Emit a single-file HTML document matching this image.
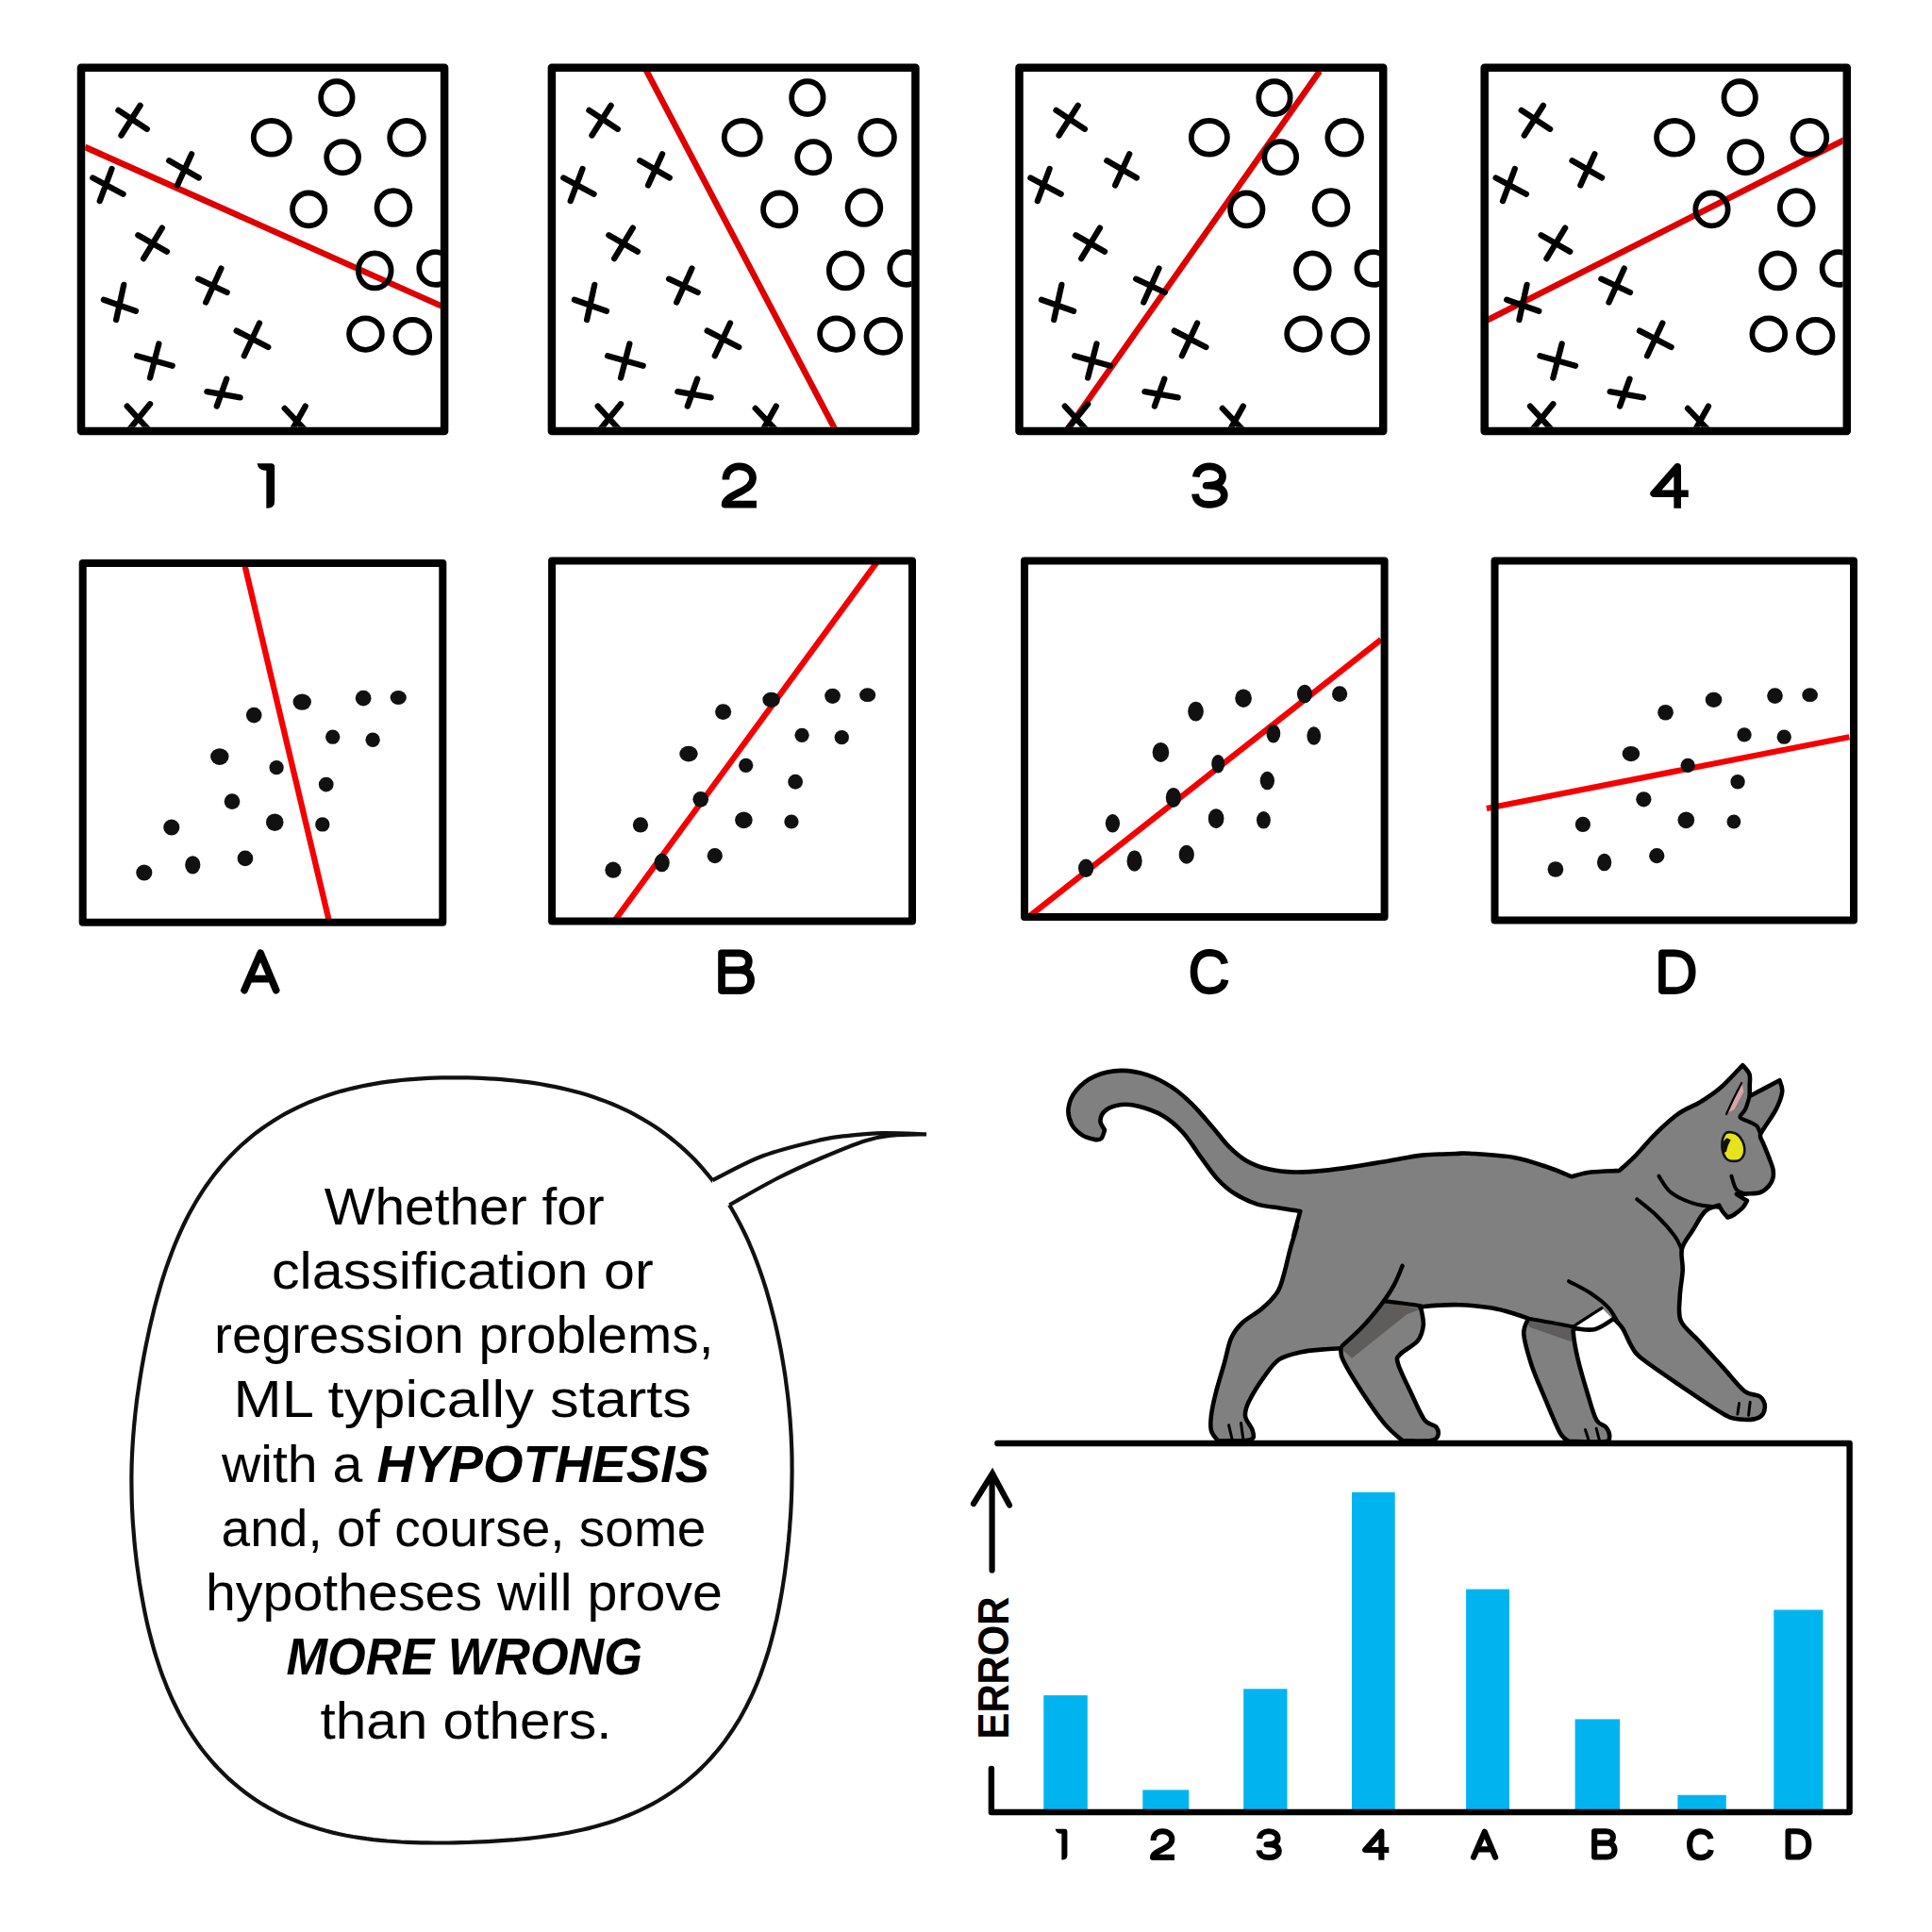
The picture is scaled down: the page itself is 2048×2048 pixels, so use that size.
<!DOCTYPE html>
<html><head><meta charset="utf-8"><style>
html,body{margin:0;padding:0;background:#fff;}
svg{display:block;}
</style></head><body>
<svg width="2048" height="2048" viewBox="0 0 2048 2048">
<rect width="2048" height="2048" fill="#fff"/>
<clipPath id="cp0"><rect x="113.4" y="121.2" width="1624.1" height="1624.1"/></clipPath>
<g transform="translate(64,48) scale(0.231884)">
<g clip-path="url(#cp0)">
<path d="M112,465L1742,1192" stroke="#de0000" stroke-width="28" fill="none"/>
<g fill="none" stroke="#000" stroke-width="27" stroke-linecap="round"><path d="M278,412L365,275M265,297L396,383"/><path d="M180,712L235,565M148,606L287,680"/><path d="M535,640L600,497M497,527L633,606"/><path d="M380,975L465,835M355,868L487,943"/><path d="M255,1255L290,1095M198,1163L345,1215"/><path d="M665,1175L735,1020M630,1068L762,1130"/><path d="M840,1420L910,1270M805,1305L950,1380"/><path d="M410,1520L450,1365M350,1420L512,1465"/><path d="M715,1650L760,1525M670,1583L822,1610"/><path d="M410,1640L300,1775M305,1650L415,1770"/><path d="M1120,1650L1050,1775M1025,1660L1130,1770"/></g>
<g fill="none" stroke="#000" stroke-width="25"><ellipse cx="1263" cy="240" rx="72" ry="75"/><ellipse cx="965" cy="422" rx="82" ry="77"/><ellipse cx="1290" cy="512" rx="73" ry="72"/><ellipse cx="1583" cy="422" rx="77" ry="77"/><ellipse cx="1135" cy="750" rx="74" ry="75"/><ellipse cx="1522" cy="742" rx="75" ry="77"/><ellipse cx="1437" cy="1030" rx="75" ry="80"/><ellipse cx="1715" cy="1020" rx="75" ry="75"/><ellipse cx="1395" cy="1320" rx="75" ry="72"/><ellipse cx="1610" cy="1330" rx="77" ry="75"/></g>
</g></g>
<rect x="86" y="71.8" width="385.1" height="385.1" fill="none" stroke="#000" stroke-width="8.5" stroke-linejoin="round"/>
<clipPath id="cp1"><rect x="112.6" y="121.2" width="1625.8" height="1624.1"/></clipPath>
<g transform="translate(563,48) scale(0.231884)">
<g clip-path="url(#cp1)">
<path d="M508,80L1398,1772" stroke="#de0000" stroke-width="28" fill="none"/>
<g fill="none" stroke="#000" stroke-width="27" stroke-linecap="round"><path d="M278,412L365,275M265,297L396,383"/><path d="M180,712L235,565M148,606L287,680"/><path d="M535,640L600,497M497,527L633,606"/><path d="M380,975L465,835M355,868L487,943"/><path d="M255,1255L290,1095M198,1163L345,1215"/><path d="M665,1175L735,1020M630,1068L762,1130"/><path d="M840,1420L910,1270M805,1305L950,1380"/><path d="M410,1520L450,1365M350,1420L512,1465"/><path d="M715,1650L760,1525M670,1583L822,1610"/><path d="M410,1640L300,1775M305,1650L415,1770"/><path d="M1120,1650L1050,1775M1025,1660L1130,1770"/></g>
<g fill="none" stroke="#000" stroke-width="25"><ellipse cx="1263" cy="240" rx="72" ry="75"/><ellipse cx="965" cy="422" rx="82" ry="77"/><ellipse cx="1290" cy="512" rx="73" ry="72"/><ellipse cx="1583" cy="422" rx="77" ry="77"/><ellipse cx="1135" cy="750" rx="74" ry="75"/><ellipse cx="1522" cy="742" rx="75" ry="77"/><ellipse cx="1437" cy="1030" rx="75" ry="80"/><ellipse cx="1715" cy="1020" rx="75" ry="75"/><ellipse cx="1395" cy="1320" rx="75" ry="72"/><ellipse cx="1610" cy="1330" rx="77" ry="75"/></g>
</g></g>
<rect x="584.9" y="71.8" width="385.5" height="385.1" fill="none" stroke="#000" stroke-width="8.5" stroke-linejoin="round"/>
<clipPath id="cp2"><rect x="114.7" y="121.2" width="1626.7" height="1624.1"/></clipPath>
<g transform="translate(1058.1,48) scale(0.231884)">
<g clip-path="url(#cp2)">
<path d="M300,1780L1470,118" stroke="#de0000" stroke-width="28" fill="none"/>
<g fill="none" stroke="#000" stroke-width="27" stroke-linecap="round"><path d="M278,412L365,275M265,297L396,383"/><path d="M180,712L235,565M148,606L287,680"/><path d="M535,640L600,497M497,527L633,606"/><path d="M380,975L465,835M355,868L487,943"/><path d="M255,1255L290,1095M198,1163L345,1215"/><path d="M665,1175L735,1020M630,1068L762,1130"/><path d="M840,1420L910,1270M805,1305L950,1380"/><path d="M410,1520L450,1365M350,1420L512,1465"/><path d="M715,1650L760,1525M670,1583L822,1610"/><path d="M410,1640L300,1775M305,1650L415,1770"/><path d="M1120,1650L1050,1775M1025,1660L1130,1770"/></g>
<g fill="none" stroke="#000" stroke-width="25"><ellipse cx="1263" cy="240" rx="72" ry="75"/><ellipse cx="965" cy="422" rx="82" ry="77"/><ellipse cx="1290" cy="512" rx="73" ry="72"/><ellipse cx="1583" cy="422" rx="77" ry="77"/><ellipse cx="1135" cy="750" rx="74" ry="75"/><ellipse cx="1522" cy="742" rx="75" ry="77"/><ellipse cx="1437" cy="1030" rx="75" ry="80"/><ellipse cx="1715" cy="1020" rx="75" ry="75"/><ellipse cx="1395" cy="1320" rx="75" ry="72"/><ellipse cx="1610" cy="1330" rx="77" ry="75"/></g>
</g></g>
<rect x="1080.5" y="71.8" width="385.7" height="385.1" fill="none" stroke="#000" stroke-width="8.5" stroke-linejoin="round"/>
<clipPath id="cp3"><rect x="114.7" y="121.2" width="1619.8" height="1624.1"/></clipPath>
<g transform="translate(1551.3,48) scale(0.231884)">
<g clip-path="url(#cp3)">
<path d="M98,1262L1742,432" stroke="#de0000" stroke-width="28" fill="none"/>
<g fill="none" stroke="#000" stroke-width="27" stroke-linecap="round"><path d="M278,412L365,275M265,297L396,383"/><path d="M180,712L235,565M148,606L287,680"/><path d="M535,640L600,497M497,527L633,606"/><path d="M380,975L465,835M355,868L487,943"/><path d="M255,1255L290,1095M198,1163L345,1215"/><path d="M665,1175L735,1020M630,1068L762,1130"/><path d="M840,1420L910,1270M805,1305L950,1380"/><path d="M410,1520L450,1365M350,1420L512,1465"/><path d="M715,1650L760,1525M670,1583L822,1610"/><path d="M410,1640L300,1775M305,1650L415,1770"/><path d="M1120,1650L1050,1775M1025,1660L1130,1770"/></g>
<g fill="none" stroke="#000" stroke-width="25"><ellipse cx="1263" cy="240" rx="72" ry="75"/><ellipse cx="965" cy="422" rx="82" ry="77"/><ellipse cx="1290" cy="512" rx="73" ry="72"/><ellipse cx="1583" cy="422" rx="77" ry="77"/><ellipse cx="1135" cy="750" rx="74" ry="75"/><ellipse cx="1522" cy="742" rx="75" ry="77"/><ellipse cx="1437" cy="1030" rx="75" ry="80"/><ellipse cx="1715" cy="1020" rx="75" ry="75"/><ellipse cx="1395" cy="1320" rx="75" ry="72"/><ellipse cx="1610" cy="1330" rx="77" ry="75"/></g>
</g></g>
<rect x="1573.7" y="71.8" width="384.1" height="385.1" fill="none" stroke="#000" stroke-width="8.5" stroke-linejoin="round"/>
<g transform="translate(64,576) scale(0.231884)">
<path d="M838,80L1228,1725" stroke="#f50000" stroke-width="27" fill="none"/>
<g fill="#111"><ellipse cx="885" cy="785" rx="36" ry="36"/><ellipse cx="1105" cy="725" rx="42" ry="37"/><ellipse cx="1385" cy="708" rx="36" ry="36"/><ellipse cx="1545" cy="705" rx="37" ry="32"/><ellipse cx="1245" cy="885" rx="33" ry="33"/><ellipse cx="1428" cy="898" rx="33" ry="33"/><ellipse cx="728" cy="975" rx="42" ry="38"/><ellipse cx="988" cy="1025" rx="33" ry="33"/><ellipse cx="1215" cy="1102" rx="34" ry="34"/><ellipse cx="785" cy="1180" rx="36" ry="36"/><ellipse cx="980" cy="1275" rx="40" ry="40"/><ellipse cx="1198" cy="1285" rx="33" ry="33"/><ellipse cx="508" cy="1298" rx="37" ry="37"/><ellipse cx="845" cy="1440" rx="36" ry="36"/><ellipse cx="605" cy="1470" rx="35" ry="42"/><ellipse cx="383" cy="1505" rx="37" ry="37"/></g>
</g>
<rect x="87.7" y="596.9" width="381.6" height="380.9" fill="none" stroke="#000" stroke-width="8" stroke-linejoin="round"/>
<g transform="translate(563,576) scale(0.231884)">
<path d="M378,1730L1585,80" stroke="#f50000" stroke-width="27" fill="none"/>
<g fill="#111"><ellipse cx="878" cy="770" rx="37" ry="36"/><ellipse cx="1098" cy="715" rx="40" ry="35"/><ellipse cx="1378" cy="698" rx="36" ry="35"/><ellipse cx="1538" cy="693" rx="37" ry="32"/><ellipse cx="1238" cy="877" rx="33" ry="33"/><ellipse cx="1420" cy="887" rx="33" ry="33"/><ellipse cx="720" cy="962" rx="42" ry="36"/><ellipse cx="982" cy="1015" rx="33" ry="33"/><ellipse cx="1208" cy="1090" rx="34" ry="34"/><ellipse cx="775" cy="1170" rx="36" ry="36"/><ellipse cx="972" cy="1265" rx="40" ry="38"/><ellipse cx="1190" cy="1272" rx="33" ry="32"/><ellipse cx="500" cy="1287" rx="35" ry="35"/><ellipse cx="840" cy="1428" rx="35" ry="35"/><ellipse cx="598" cy="1460" rx="35" ry="42"/><ellipse cx="375" cy="1493" rx="37" ry="37"/></g>
</g>
<rect x="585.1" y="594.4" width="381.9" height="382.2" fill="none" stroke="#000" stroke-width="8" stroke-linejoin="round"/>
<g transform="translate(1060,576) scale(0.231884)">
<path d="M125,1712L1742,440" stroke="#f50000" stroke-width="27" fill="none"/>
<g fill="#111"><ellipse cx="895" cy="768" rx="36" ry="45"/><ellipse cx="1113" cy="708" rx="38" ry="42"/><ellipse cx="1393" cy="688" rx="35" ry="42"/><ellipse cx="1553" cy="688" rx="35" ry="36"/><ellipse cx="1250" cy="870" rx="32" ry="42"/><ellipse cx="1435" cy="880" rx="32" ry="42"/><ellipse cx="735" cy="955" rx="38" ry="45"/><ellipse cx="997" cy="1008" rx="30" ry="42"/><ellipse cx="1222" cy="1085" rx="33" ry="42"/><ellipse cx="793" cy="1162" rx="35" ry="45"/><ellipse cx="988" cy="1258" rx="36" ry="45"/><ellipse cx="1205" cy="1265" rx="32" ry="40"/><ellipse cx="515" cy="1280" rx="33" ry="42"/><ellipse cx="853" cy="1422" rx="35" ry="43"/><ellipse cx="615" cy="1452" rx="35" ry="48"/><ellipse cx="393" cy="1485" rx="35" ry="42"/></g>
</g>
<rect x="1086" y="594.4" width="381.6" height="377.6" fill="none" stroke="#000" stroke-width="8" stroke-linejoin="round"/>
<g transform="translate(1555,576) scale(0.231884)">
<path d="M90,1212L1748,885" stroke="#f50000" stroke-width="27" fill="none"/>
<g fill="#111"><ellipse cx="908" cy="773" rx="36" ry="36"/><ellipse cx="1128" cy="715" rx="38" ry="35"/><ellipse cx="1408" cy="697" rx="36" ry="36"/><ellipse cx="1568" cy="693" rx="36" ry="32"/><ellipse cx="1268" cy="875" rx="33" ry="33"/><ellipse cx="1450" cy="885" rx="33" ry="33"/><ellipse cx="750" cy="962" rx="40" ry="35"/><ellipse cx="1010" cy="1015" rx="33" ry="33"/><ellipse cx="1238" cy="1090" rx="33" ry="33"/><ellipse cx="808" cy="1170" rx="35" ry="35"/><ellipse cx="1002" cy="1265" rx="38" ry="38"/><ellipse cx="1220" cy="1272" rx="32" ry="32"/><ellipse cx="530" cy="1285" rx="35" ry="35"/><ellipse cx="868" cy="1428" rx="35" ry="35"/><ellipse cx="628" cy="1458" rx="33" ry="40"/><ellipse cx="405" cy="1490" rx="36" ry="36"/></g>
</g>
<rect x="1584.5" y="594.4" width="380.5" height="381.1" fill="none" stroke="#000" stroke-width="8" stroke-linejoin="round"/>
<path transform="translate(272.5,491.2) scale(0.10352)" d="M0,0 L145,0 Q180,0 180,35 L180,390 Q180,460 105,460 L95,460 L95,72 L85,72 Q15,72 0,0Z" fill="#000"/>
<path transform="translate(764.7,490.7) scale(0.10352)" d="M45,172 C45,85 105,36 182,36 C265,36 322,88 322,152 C322,225 262,262 182,302 C95,345 37,378 37,425 L360,425" fill="none" stroke="#000" stroke-width="74" stroke-linejoin="round"/>
<path transform="translate(1263.1,490.7) scale(0.10352)" d="M45,145 C52,78 110,36 182,36 C262,36 318,80 318,138 C318,195 268,232 150,232 L172,232 C280,232 335,272 335,332 C335,392 272,427 180,427 C98,427 42,388 38,318" fill="none" stroke="#000" stroke-width="74" stroke-linejoin="round"/>
<path transform="translate(1749.4,490.7) scale(0.10352)" d="M278,465 L278,40 L36,314 L390,314" fill="none" stroke="#000" stroke-width="74" stroke-linejoin="round"/>
<path transform="translate(254.9,1006) scale(0.10352)" d="M40,422 L205,42 L365,422 M112,305 L298,305" fill="none" stroke="#000" stroke-width="74" stroke-linejoin="round" stroke-linecap="round"/>
<path transform="translate(760.9,1006.6) scale(0.10352)" d="M40,420 L40,36 L215,36 C282,36 318,72 318,123 C318,175 282,210 215,210 L40,210 L228,210 C300,210 340,252 340,315 C340,380 298,420 222,420 L40,420Z" fill="none" stroke="#000" stroke-width="74" stroke-linejoin="round"/>
<path transform="translate(1261.6,1006) scale(0.10352)" d="M352,150 C340,78 280,37 197,37 C100,37 38,110 38,232 C38,355 100,428 197,428 C285,428 346,385 357,315" fill="none" stroke="#000" stroke-width="74" stroke-linejoin="round"/>
<path transform="translate(1757.8,1006.6) scale(0.10352)" d="M40,36 L165,36 C285,36 347,110 347,228 C347,345 285,420 165,420 L40,420 Z" fill="none" stroke="#000" stroke-width="74" stroke-linejoin="round"/>
<path transform="translate(1118.6,1938.7) scale(0.07109)" d="M0,0 L145,0 Q180,0 180,35 L180,390 Q180,460 105,460 L95,460 L95,72 L85,72 Q15,72 0,0Z" fill="#000"/>
<path transform="translate(1219.4,1938.7) scale(0.07109)" d="M45,172 C45,85 105,36 182,36 C265,36 322,88 322,152 C322,225 262,262 182,302 C95,345 37,378 37,425 L360,425" fill="none" stroke="#000" stroke-width="86" stroke-linejoin="round"/>
<path transform="translate(1331.9,1938.7) scale(0.07109)" d="M45,145 C52,78 110,36 182,36 C262,36 318,80 318,138 C318,195 268,232 150,232 L172,232 C280,232 335,272 335,332 C335,392 272,427 180,427 C98,427 42,388 38,318" fill="none" stroke="#000" stroke-width="86" stroke-linejoin="round"/>
<path transform="translate(1444.6,1938.7) scale(0.07109)" d="M278,465 L278,40 L36,314 L390,314" fill="none" stroke="#000" stroke-width="86" stroke-linejoin="round"/>
<path transform="translate(1559.2,1938.7) scale(0.07109)" d="M40,422 L205,42 L365,422 M112,305 L298,305" fill="none" stroke="#000" stroke-width="86" stroke-linejoin="round" stroke-linecap="round"/>
<path transform="translate(1687.3,1938.7) scale(0.07109)" d="M40,420 L40,36 L215,36 C282,36 318,72 318,123 C318,175 282,210 215,210 L40,210 L228,210 C300,210 340,252 340,315 C340,380 298,420 222,420 L40,420Z" fill="none" stroke="#000" stroke-width="86" stroke-linejoin="round"/>
<path transform="translate(1788.4,1938.7) scale(0.07109)" d="M352,150 C340,78 280,37 197,37 C100,37 38,110 38,232 C38,355 100,428 197,428 C285,428 346,385 357,315" fill="none" stroke="#000" stroke-width="86" stroke-linejoin="round"/>
<path transform="translate(1892.7,1938.7) scale(0.07109)" d="M40,36 L165,36 C285,36 347,110 347,228 C347,345 285,420 165,420 L40,420 Z" fill="none" stroke="#000" stroke-width="86" stroke-linejoin="round"/>
<path d="M139.8,1547 L140.1,1540.9 L140.4,1534.8 L140.8,1528.7 L141.2,1522.7 L141.7,1516.6 L142.2,1510.5 L142.8,1504.5 L143.4,1498.4 L144.1,1492.4 L144.8,1486.3 L145.6,1480.3 L146.5,1474.2 L147.4,1468.1 L148.3,1462.1 L149.3,1456 L150.3,1449.9 L151.4,1443.8 L152.5,1437.7 L153.7,1431.5 L154.9,1425.4 L156.2,1419.2 L157.5,1413.1 L158.8,1406.9 L160.3,1400.6 L161.8,1394.4 L163.3,1388.1 L164.9,1381.9 L166.6,1375.6 L168.4,1369.3 L170.2,1362.9 L172.1,1356.6 L174.1,1350.3 L176.2,1343.9 L178.5,1337.5 L180.8,1331.2 L183.2,1324.8 L185.7,1318.5 L188.4,1312.1 L191.2,1305.8 L194.1,1299.5 L197.1,1293.3 L200.3,1287.1 L203.7,1280.9 L207.2,1274.8 L210.8,1268.8 L214.6,1262.8 L218.5,1257 L222.7,1251.2 L226.9,1245.5 L231.4,1239.9 L235.9,1234.5 L240.7,1229.2 L245.6,1224 L250.6,1218.9 L255.8,1214 L261.2,1209.3 L266.7,1204.7 L272.3,1200.2 L278.1,1196 L284,1191.9 L290,1188 L296.1,1184.2 L302.3,1180.7 L308.7,1177.3 L315.1,1174.1 L321.6,1171.1 L328.2,1168.2 L334.9,1165.6 L341.6,1163.1 L348.4,1160.7 L355.3,1158.6 L362.1,1156.6 L369.1,1154.8 L376,1153.1 L383,1151.5 L390,1150.1 L397.1,1148.9 L404.1,1147.7 L411.2,1146.7 L418.3,1145.8 L425.3,1145 L432.4,1144.4 L439.5,1143.8 L446.6,1143.3 L453.6,1142.9 L460.7,1142.6 L467.8,1142.4 L474.9,1142.3 L481.9,1142.3 L489,1142.3 L496.1,1142.4 L503.1,1142.6 L510.2,1142.9 L517.2,1143.3 L524.3,1143.7 L531.3,1144.2 L538.4,1144.8 L545.4,1145.5 L552.5,1146.3 L559.5,1147.2 L566.5,1148.2 L573.5,1149.3 L580.5,1150.6 L587.5,1151.9 L594.5,1153.4 L601.4,1155 L608.3,1156.7 L615.2,1158.6 L622,1160.6 L628.8,1162.8 L635.6,1165.2 L642.3,1167.6 L648.9,1170.3 L655.5,1173.1 L662,1176.1 L668.4,1179.2 L674.7,1182.6 L680.9,1186.1 L687,1189.7 L693.1,1193.5 L699,1197.5 L704.8,1201.7 L710.4,1206 L716,1210.5 L721.4,1215.1 L726.7,1219.9 L731.8,1224.8 L736.8,1229.8 L741.6,1235 L746.3,1240.3 L750.9,1245.8 L755.3,1251.3 L759.5,1256.9 L763.6,1262.7 L767.5,1268.5 L771.3,1274.4 L775,1280.3 L778.5,1286.4 L781.8,1292.5 L785,1298.6 L788.1,1304.8 L791.1,1311 L793.9,1317.2 L796.6,1323.5 L799.2,1329.8 L801.6,1336.1 L804,1342.4 L806.2,1348.8 L808.4,1355.1 L810.4,1361.4 L812.4,1367.7 L814.2,1374.1 L816,1380.4 L817.7,1386.7 L819.3,1393 L820.9,1399.2 L822.4,1405.5 L823.8,1411.7 L825.1,1418 L826.4,1424.2 L827.6,1430.4 L828.7,1436.6 L829.8,1442.8 L830.8,1449 L831.8,1455.2 L832.7,1461.3 L833.5,1467.5 L834.3,1473.6 L835.1,1479.7 L835.8,1485.9 L836.4,1492 L836.9,1498.1 L837.5,1504.2 L837.9,1510.3 L838.3,1516.4 L838.7,1522.5 L838.9,1528.7 L839.2,1534.8 L839.4,1540.9 L839.5,1547 L839.5,1553.1 L839.6,1559.2 L839.5,1565.4 L839.4,1571.5 L839.3,1577.6 L839.1,1583.8 L838.9,1590 L838.6,1596.1 L838.3,1602.3 L837.9,1608.5 L837.4,1614.7 L837,1621 L836.4,1627.2 L835.9,1633.5 L835.2,1639.8 L834.6,1646.1 L833.8,1652.4 L833,1658.8 L832.2,1665.2 L831.3,1671.6 L830.3,1678 L829.3,1684.5 L828.2,1691 L827,1697.5 L825.8,1704.1 L824.5,1710.6 L823.1,1717.2 L821.5,1723.8 L819.9,1730.4 L818.2,1737.1 L816.4,1743.7 L814.5,1750.4 L812.4,1757 L810.2,1763.7 L807.9,1770.3 L805.5,1776.9 L802.9,1783.5 L800.1,1790.1 L797.2,1796.6 L794.1,1803 L790.9,1809.5 L787.5,1815.8 L784,1822.1 L780.2,1828.2 L776.3,1834.3 L772.2,1840.3 L768,1846.2 L763.6,1851.9 L759,1857.5 L754.2,1863 L749.2,1868.4 L744.1,1873.5 L738.8,1878.6 L733.4,1883.4 L727.8,1888.1 L722.1,1892.6 L716.2,1896.9 L710.2,1901.1 L704.1,1905 L697.9,1908.8 L691.5,1912.3 L685.1,1915.7 L678.5,1918.9 L671.9,1921.9 L665.1,1924.8 L658.4,1927.4 L651.5,1929.9 L644.6,1932.2 L637.7,1934.3 L630.7,1936.3 L623.7,1938.1 L616.6,1939.8 L609.5,1941.3 L602.5,1942.7 L595.4,1944 L588.3,1945.2 L581.2,1946.2 L574.1,1947.2 L567,1948 L559.9,1948.8 L552.8,1949.5 L545.7,1950.2 L538.6,1950.7 L531.5,1951.2 L524.4,1951.7 L517.3,1952.1 L510.2,1952.4 L503.2,1952.7 L496.1,1953 L489,1953.2 L481.9,1953.3 L474.8,1953.5 L467.7,1953.5 L460.6,1953.5 L453.4,1953.4 L446.3,1953.3 L439.1,1953.1 L432,1952.8 L424.8,1952.5 L417.6,1952 L410.4,1951.5 L403.2,1950.8 L395.9,1950.1 L388.7,1949.2 L381.5,1948.1 L374.3,1947 L367.1,1945.7 L359.9,1944.2 L352.8,1942.6 L345.7,1940.8 L338.6,1938.8 L331.6,1936.6 L324.6,1934.3 L317.7,1931.8 L310.9,1929 L304.1,1926.1 L297.4,1923 L290.9,1919.6 L284.4,1916.1 L278.1,1912.4 L271.8,1908.4 L265.7,1904.3 L259.8,1900 L254,1895.4 L248.3,1890.7 L242.8,1885.9 L237.5,1880.8 L232.3,1875.6 L227.3,1870.2 L222.4,1864.7 L217.7,1859 L213.2,1853.3 L208.9,1847.3 L204.8,1841.3 L200.8,1835.2 L197,1829 L193.4,1822.7 L189.9,1816.3 L186.7,1809.8 L183.5,1803.3 L180.6,1796.8 L177.7,1790.2 L175.1,1783.6 L172.5,1776.9 L170.1,1770.3 L167.9,1763.6 L165.7,1756.9 L163.7,1750.3 L161.8,1743.6 L160,1736.9 L158.3,1730.3 L156.7,1723.7 L155.2,1717.1 L153.8,1710.5 L152.5,1703.9 L151.3,1697.4 L150.1,1690.9 L149,1684.4 L147.9,1677.9 L147,1671.5 L146.1,1665.1 L145.2,1658.7 L144.4,1652.3 L143.7,1646 L143,1639.7 L142.4,1633.4 L141.9,1627.1 L141.4,1620.9 L140.9,1614.7 L140.5,1608.4 L140.2,1602.2 L139.9,1596.1 L139.7,1589.9 L139.6,1583.7 L139.5,1577.6 L139.4,1571.4 L139.4,1565.3 L139.5,1559.2 L139.6,1553.1Z" fill="#fff" stroke="#111" stroke-width="4.2"/>
<path d="M755.2,1251.2C764.1,1246.9 789.4,1232.4 808.7,1225.2C828,1218 855.6,1211.7 870.8,1208.1C886,1204.5 889.1,1204.9 900,1203.8C910.9,1202.7 922.3,1201.5 936,1201.2C949.7,1201 974.3,1202.1 982,1202.3C975.8,1202.5 955.8,1202.4 945,1203.6C934.2,1204.8 929.8,1205.2 917.4,1209.2C905,1213.2 886.3,1220.9 870.8,1227.5C855.3,1234.1 840.5,1240.7 824.2,1249C807.9,1257.3 781.7,1272.6 773.2,1277.3 L750,1290Z" fill="#fff" stroke="none"/>
<path d="M755.2,1251.2C764.1,1246.9 789.4,1232.4 808.7,1225.2C828,1218 855.6,1211.7 870.8,1208.1C886,1204.5 889.1,1204.9 900,1203.8C910.9,1202.7 922.3,1201.5 936,1201.2C949.7,1201 974.3,1202.1 982,1202.3C975.8,1202.5 955.8,1202.4 945,1203.6C934.2,1204.8 929.8,1205.2 917.4,1209.2C905,1213.2 886.3,1220.9 870.8,1227.5C855.3,1234.1 840.5,1240.7 824.2,1249C807.9,1257.3 781.7,1272.6 773.2,1277.3" fill="none" stroke="#111" stroke-width="4.2" stroke-linejoin="miter" stroke-miterlimit="10"/>
<g font-family="Liberation Sans, sans-serif" font-size="55" fill="#000">
<text x="343.8" y="1297.8" textLength="297" lengthAdjust="spacingAndGlyphs">Whether for</text>
<text x="288" y="1366" textLength="404.6" lengthAdjust="spacingAndGlyphs">classification or</text>
<text x="227" y="1434" textLength="529.4" lengthAdjust="spacingAndGlyphs">regression problems,</text>
<text x="247.6" y="1502.4" textLength="485.4" lengthAdjust="spacingAndGlyphs">ML typically starts</text>
<text x="234.6" y="1638.8" textLength="513.8" lengthAdjust="spacingAndGlyphs">and, of course, some</text>
<text x="218" y="1706.6" textLength="547.8" lengthAdjust="spacingAndGlyphs">hypotheses will prove</text>
<text x="339.4" y="1842.6" textLength="309.2" lengthAdjust="spacingAndGlyphs">than others.</text>
<text x="234.9" y="1570.6" textLength="149.4" lengthAdjust="spacingAndGlyphs">with a</text>
<text x="399.5" y="1571" textLength="352.5" lengthAdjust="spacingAndGlyphs" font-weight="bold" font-style="italic">HYPOTHESIS</text>
<text x="303.5" y="1775.2" textLength="377.5" lengthAdjust="spacingAndGlyphs" font-weight="bold" font-style="italic">MORE WRONG</text>
</g>
<g>
<path d="M1161.7,1208.3C1159.4,1207.5 1152,1206.4 1147.7,1203.6C1143.5,1200.9 1138.6,1196.9 1136.1,1192C1133.6,1187.2 1131.8,1180.6 1132.6,1174.5C1133.4,1168.5 1136.1,1161.5 1140.8,1155.9C1145.4,1150.3 1152.6,1144.3 1160.6,1140.8C1168.5,1137.3 1179.2,1135.1 1188.5,1134.9C1197.8,1134.7 1207.5,1136.7 1216.5,1139.6C1225.4,1142.5 1234.3,1147.4 1242.1,1152.4C1249.8,1157.5 1256.1,1163.1 1263,1169.9C1270,1176.7 1277.4,1185.6 1284,1193.2C1290.6,1200.7 1296.4,1209.1 1302.6,1215.3C1308.9,1221.5 1314.3,1226.4 1321.3,1230.4C1328.3,1234.4 1336,1237.3 1344.6,1239.3C1353.1,1241.3 1362.8,1242.3 1372.5,1242.5C1382.2,1242.8 1391.9,1242 1402.8,1240.9C1413.7,1239.9 1426.1,1238 1437.7,1236.3C1449.4,1234.5 1461,1232.4 1472.7,1230.4C1484.3,1228.5 1496,1225.9 1507.6,1224.6C1519.3,1223.4 1534.1,1223.3 1542.6,1223C1551,1222.7 1547.9,1222.1 1558.2,1222.7C1568.6,1223.4 1591.2,1224.6 1604.8,1226.9C1618.4,1229.3 1629.6,1233.6 1639.8,1237C1649.9,1240.3 1661.5,1245.5 1665.8,1247.2C1669.3,1246.4 1677.9,1243.6 1686.3,1242.5C1694.8,1241.5 1711.6,1241.2 1716.6,1240.9C1719.3,1238.4 1726.3,1232.5 1732.9,1225.8C1739.5,1219.1 1748.4,1208.2 1756.2,1200.6C1764,1193.1 1771.7,1185.8 1779.5,1180.4C1787.3,1174.9 1795.4,1172.6 1802.8,1168C1810.2,1163.5 1816.3,1159.6 1823.8,1153.1C1831.2,1146.6 1843.4,1133.1 1847.3,1129.1C1848.5,1130.7 1853.3,1135.1 1854.5,1138.7C1855.7,1142.3 1854.7,1146.9 1854.7,1150.8C1854.8,1154.7 1854.7,1160.1 1854.7,1162C1860,1159.2 1881.1,1148 1886.4,1145.2C1886.9,1147.2 1889.8,1152.2 1889.2,1157.3C1888.6,1162.4 1886,1169.4 1882.7,1175.9C1879.4,1182.5 1872.4,1191.8 1869.6,1196.4C1866.9,1201.1 1865.9,1201.1 1865.9,1203.9C1865.9,1206.7 1868.1,1209.3 1869.6,1213.2C1871.2,1217.1 1873.6,1222.8 1875.2,1227.2C1876.9,1231.5 1878.7,1235.7 1879.4,1239.3C1880.1,1242.9 1880.1,1245.7 1879.4,1248.6C1878.7,1251.6 1877.5,1254.4 1875.2,1257C1873,1259.6 1869.8,1262.6 1865.9,1264C1862,1265.4 1854.3,1265.1 1851.9,1265.4C1850.1,1265.5 1842.6,1265.8 1840.8,1265.8C1842.6,1267 1850.1,1271.7 1851.9,1272.8C1851.2,1274.1 1849.6,1277.8 1847.3,1280.3C1845,1282.8 1840.6,1286 1838,1287.7C1835.3,1289.4 1832.5,1290.1 1831.4,1290.5C1830.5,1289.4 1827.4,1286.2 1825.9,1284C1824.3,1281.8 1822.8,1278.6 1822.1,1277.5C1819.7,1278.6 1812,1279.6 1807.5,1284C1802.9,1288.4 1798.7,1297.2 1794.6,1303.8C1790.6,1310.4 1784.8,1316.5 1783,1323.6C1781.2,1330.7 1784.1,1338.1 1783.7,1346.6C1783.3,1355.1 1781,1365.6 1780.7,1374.5C1780.4,1383.5 1778.5,1392.4 1781.8,1400.2C1785.1,1407.9 1793.1,1413 1800.5,1421.1C1807.8,1429.3 1817.9,1440.1 1826.1,1449.1C1834.2,1458 1842.8,1469.5 1849.4,1474.7C1856,1479.9 1862.1,1477.6 1865.7,1480.5C1869.3,1483.4 1871,1488.5 1870.8,1492.2C1870.6,1495.8 1868.9,1500.6 1864.5,1502.6C1860.2,1504.7 1851.1,1505.2 1844.7,1504.5C1838.3,1503.8 1837,1504.6 1826.1,1498.4C1815.2,1492.3 1793.9,1477.5 1779.5,1467.7C1765.1,1457.9 1748.3,1446.5 1739.9,1439.8C1731.6,1433 1732.7,1432.2 1729.4,1426.9C1726.1,1421.7 1723.2,1413.2 1720.1,1408.3C1717,1403.5 1712.3,1399.6 1710.8,1397.8C1707.5,1399.7 1697.8,1407.3 1691,1409C1684.2,1410.8 1673.5,1408.4 1670,1408.3C1669.6,1408.9 1667.3,1406.6 1667.7,1411.8C1668.1,1417 1669.8,1428.9 1672.4,1439.8C1674.9,1450.6 1679.5,1466.2 1682.8,1477C1686.1,1487.9 1688.9,1499 1692.2,1505C1695.5,1511 1700.3,1510.1 1702.6,1513.1C1705,1516.2 1706.5,1520.6 1706.1,1523.1C1705.7,1525.7 1707.5,1527.5 1700.3,1528.3C1693.1,1529 1669.3,1527.9 1663,1527.8C1661.5,1526.3 1658,1526.6 1653.7,1518.9C1649.5,1511.3 1642.5,1493.7 1637.4,1481.7C1632.4,1469.6 1627.1,1458 1623.4,1446.7C1619.8,1435.5 1615.9,1422.3 1615.3,1414.1C1614.7,1406 1619.2,1400.5 1620,1397.8C1617.8,1397.1 1613.5,1395 1607.1,1393.2C1600.7,1391.3 1591.6,1388.3 1581.5,1386.6C1571.4,1385 1558.6,1383.4 1546.6,1383.2C1534.5,1382.9 1516,1384.3 1509.3,1385C1502.6,1385.7 1506.9,1387 1506.4,1387.3C1506.8,1390.3 1509.4,1399.2 1508.8,1404.8C1508.2,1410.4 1507,1416 1503,1421.1C1498.9,1426.2 1487.8,1431.5 1484.3,1435.6C1480.8,1439.6 1480,1438.7 1482,1445.6C1483.9,1452.5 1491.3,1467.1 1496,1477C1500.6,1486.9 1505.6,1499.1 1509.9,1505C1514.3,1510.9 1519.6,1509.7 1522.1,1512.4C1524.5,1515.1 1525.2,1518.8 1524.4,1521.3C1523.5,1523.7 1523.2,1526.1 1516.9,1527.1C1510.6,1528.1 1491.7,1527.1 1486.6,1527.1C1483.5,1524.2 1475,1518 1468,1509.6C1461,1501.3 1452.1,1488.3 1444.7,1477C1437.3,1465.8 1427.6,1450 1423.8,1442.1C1419.9,1434.1 1421.8,1431.4 1421.4,1429.3C1418.3,1429.5 1409.8,1429.8 1402.8,1430.4C1395.8,1431.1 1387.3,1431.5 1379.5,1433.2C1371.7,1435 1362.8,1436.5 1356.2,1440.9C1349.6,1445.3 1345.3,1452 1339.9,1459.6C1334.5,1467.1 1326.9,1479.3 1323.6,1486.3C1320.3,1493.3 1319.4,1496.4 1320.1,1501.5C1320.8,1506.5 1327,1512.5 1327.8,1516.6C1328.6,1520.8 1330.9,1524.7 1324.8,1526.4C1318.6,1528.1 1296.6,1527 1291,1527.1C1289.8,1525.4 1285.2,1521.1 1284,1516.6C1282.8,1512.2 1283.2,1506.9 1284,1500.3C1284.8,1493.7 1286.3,1486.3 1288.7,1477C1291,1467.7 1295.3,1454.1 1298,1444.4C1300.7,1434.7 1301.9,1425.8 1305,1418.8C1308.1,1411.8 1311.2,1407.7 1316.6,1402.5C1322.1,1397.2 1331.4,1392.8 1337.6,1387.3C1343.8,1381.9 1350,1375.9 1353.9,1369.9C1357.8,1363.9 1358.5,1359 1360.9,1351.2C1363.2,1343.5 1365.5,1331.8 1367.9,1323.3C1370.2,1314.8 1374.3,1302.3 1374.8,1300C1375.4,1297.7 1370.8,1312.3 1371.4,1309.6C1371.9,1307 1377.2,1288.3 1378.3,1284C1374.7,1283.4 1363.8,1281.8 1356.2,1280.5C1348.6,1279.3 1340.7,1279 1332.9,1276.6C1325.2,1274.1 1316.6,1270.2 1309.6,1265.8C1302.6,1261.5 1297.2,1256.9 1291,1250.2C1284.8,1243.6 1278.6,1234.1 1272.4,1225.8C1266.2,1217.4 1260.3,1207.3 1253.7,1200.2C1247.1,1193 1240.5,1187.3 1232.8,1182.7C1225,1178.1 1214.5,1174.6 1207.1,1172.7C1199.8,1170.7 1194.3,1170.3 1188.5,1171C1182.7,1171.7 1175.9,1174 1172.2,1176.9C1168.5,1179.7 1166.6,1184.6 1166.4,1188C1166.2,1191.5 1170.3,1196.2 1171,1197.8C1170.5,1199.3 1169.1,1204.9 1167.5,1206.7C1166,1208.4 1162.7,1208 1161.7,1208.3Z" fill="#808080" stroke="none"/>
<path d="M1470.3,1379.2 L1505.7,1388 L1491.3,1393.2 L1433.1,1439.8 L1422.6,1430.4 L1444.7,1406 L1463.4,1383.9Z" fill="#5f5c5c"/>
<path d="M1618.8,1399 L1668.2,1409 L1665.8,1422.3 L1621.1,1406.7Z" fill="#5f5c5c"/>
<path d="M1668.9,1405.3C1673.7,1402.2 1693.1,1389.8 1698,1386.6C1700.1,1388.8 1708.7,1397.5 1710.8,1399.7C1707.5,1401.2 1698,1408.1 1691,1409C1684,1409.9 1672.6,1405.9 1668.9,1405.3Z" fill="#fff"/>
<path d="M1841.2,1264.9 L1851.9,1266.1 L1851.8,1272.4 L1843.6,1270Z" fill="#fff"/>
<path d="M1161.7,1208.3C1159.4,1207.5 1152,1206.4 1147.7,1203.6C1143.5,1200.9 1138.6,1196.9 1136.1,1192C1133.6,1187.2 1131.8,1180.6 1132.6,1174.5C1133.4,1168.5 1136.1,1161.5 1140.8,1155.9C1145.4,1150.3 1152.6,1144.3 1160.6,1140.8C1168.5,1137.3 1179.2,1135.1 1188.5,1134.9C1197.8,1134.7 1207.5,1136.7 1216.5,1139.6C1225.4,1142.5 1234.3,1147.4 1242.1,1152.4C1249.8,1157.5 1256.1,1163.1 1263,1169.9C1270,1176.7 1277.4,1185.6 1284,1193.2C1290.6,1200.7 1296.4,1209.1 1302.6,1215.3C1308.9,1221.5 1314.3,1226.4 1321.3,1230.4C1328.3,1234.4 1336,1237.3 1344.6,1239.3C1353.1,1241.3 1362.8,1242.3 1372.5,1242.5C1382.2,1242.8 1391.9,1242 1402.8,1240.9C1413.7,1239.9 1426.1,1238 1437.7,1236.3C1449.4,1234.5 1461,1232.4 1472.7,1230.4C1484.3,1228.5 1496,1225.9 1507.6,1224.6C1519.3,1223.4 1534.1,1223.3 1542.6,1223C1551,1222.7 1547.9,1222.1 1558.2,1222.7C1568.6,1223.4 1591.2,1224.6 1604.8,1226.9C1618.4,1229.3 1629.6,1233.6 1639.8,1237C1649.9,1240.3 1661.5,1245.5 1665.8,1247.2C1669.3,1246.4 1677.9,1243.6 1686.3,1242.5C1694.8,1241.5 1711.6,1241.2 1716.6,1240.9C1719.3,1238.4 1726.3,1232.5 1732.9,1225.8C1739.5,1219.1 1748.4,1208.2 1756.2,1200.6C1764,1193.1 1771.7,1185.8 1779.5,1180.4C1787.3,1174.9 1795.4,1172.6 1802.8,1168C1810.2,1163.5 1816.3,1159.6 1823.8,1153.1C1831.2,1146.6 1843.4,1133.1 1847.3,1129.1C1848.5,1130.7 1853.3,1135.1 1854.5,1138.7C1855.7,1142.3 1854.7,1146.9 1854.7,1150.8C1854.8,1154.7 1854.7,1160.1 1854.7,1162C1860,1159.2 1881.1,1148 1886.4,1145.2C1886.9,1147.2 1889.8,1152.2 1889.2,1157.3C1888.6,1162.4 1886,1169.4 1882.7,1175.9C1879.4,1182.5 1872.4,1191.8 1869.6,1196.4C1866.9,1201.1 1865.9,1201.1 1865.9,1203.9C1865.9,1206.7 1868.1,1209.3 1869.6,1213.2C1871.2,1217.1 1873.6,1222.8 1875.2,1227.2C1876.9,1231.5 1878.7,1235.7 1879.4,1239.3C1880.1,1242.9 1880.1,1245.7 1879.4,1248.6C1878.7,1251.6 1877.5,1254.4 1875.2,1257C1873,1259.6 1869.8,1262.6 1865.9,1264C1862,1265.4 1854.3,1265.1 1851.9,1265.4C1850.1,1265.5 1842.6,1265.8 1840.8,1265.8C1842.6,1267 1850.1,1271.7 1851.9,1272.8C1851.2,1274.1 1849.6,1277.8 1847.3,1280.3C1845,1282.8 1840.6,1286 1838,1287.7C1835.3,1289.4 1832.5,1290.1 1831.4,1290.5C1830.5,1289.4 1827.4,1286.2 1825.9,1284C1824.3,1281.8 1822.8,1278.6 1822.1,1277.5C1819.7,1278.6 1812,1279.6 1807.5,1284C1802.9,1288.4 1798.7,1297.2 1794.6,1303.8C1790.6,1310.4 1784.8,1316.5 1783,1323.6C1781.2,1330.7 1784.1,1338.1 1783.7,1346.6C1783.3,1355.1 1781,1365.6 1780.7,1374.5C1780.4,1383.5 1778.5,1392.4 1781.8,1400.2C1785.1,1407.9 1793.1,1413 1800.5,1421.1C1807.8,1429.3 1817.9,1440.1 1826.1,1449.1C1834.2,1458 1842.8,1469.5 1849.4,1474.7C1856,1479.9 1862.1,1477.6 1865.7,1480.5C1869.3,1483.4 1871,1488.5 1870.8,1492.2C1870.6,1495.8 1868.9,1500.6 1864.5,1502.6C1860.2,1504.7 1851.1,1505.2 1844.7,1504.5C1838.3,1503.8 1837,1504.6 1826.1,1498.4C1815.2,1492.3 1793.9,1477.5 1779.5,1467.7C1765.1,1457.9 1748.3,1446.5 1739.9,1439.8C1731.6,1433 1732.7,1432.2 1729.4,1426.9C1726.1,1421.7 1723.2,1413.2 1720.1,1408.3C1717,1403.5 1712.3,1399.6 1710.8,1397.8C1707.5,1399.7 1697.8,1407.3 1691,1409C1684.2,1410.8 1673.5,1408.4 1670,1408.3C1669.6,1408.9 1667.3,1406.6 1667.7,1411.8C1668.1,1417 1669.8,1428.9 1672.4,1439.8C1674.9,1450.6 1679.5,1466.2 1682.8,1477C1686.1,1487.9 1688.9,1499 1692.2,1505C1695.5,1511 1700.3,1510.1 1702.6,1513.1C1705,1516.2 1706.5,1520.6 1706.1,1523.1C1705.7,1525.7 1707.5,1527.5 1700.3,1528.3C1693.1,1529 1669.3,1527.9 1663,1527.8C1661.5,1526.3 1658,1526.6 1653.7,1518.9C1649.5,1511.3 1642.5,1493.7 1637.4,1481.7C1632.4,1469.6 1627.1,1458 1623.4,1446.7C1619.8,1435.5 1615.9,1422.3 1615.3,1414.1C1614.7,1406 1619.2,1400.5 1620,1397.8C1617.8,1397.1 1613.5,1395 1607.1,1393.2C1600.7,1391.3 1591.6,1388.3 1581.5,1386.6C1571.4,1385 1558.6,1383.4 1546.6,1383.2C1534.5,1382.9 1516,1384.3 1509.3,1385C1502.6,1385.7 1506.9,1387 1506.4,1387.3C1506.8,1390.3 1509.4,1399.2 1508.8,1404.8C1508.2,1410.4 1507,1416 1503,1421.1C1498.9,1426.2 1487.8,1431.5 1484.3,1435.6C1480.8,1439.6 1480,1438.7 1482,1445.6C1483.9,1452.5 1491.3,1467.1 1496,1477C1500.6,1486.9 1505.6,1499.1 1509.9,1505C1514.3,1510.9 1519.6,1509.7 1522.1,1512.4C1524.5,1515.1 1525.2,1518.8 1524.4,1521.3C1523.5,1523.7 1523.2,1526.1 1516.9,1527.1C1510.6,1528.1 1491.7,1527.1 1486.6,1527.1C1483.5,1524.2 1475,1518 1468,1509.6C1461,1501.3 1452.1,1488.3 1444.7,1477C1437.3,1465.8 1427.6,1450 1423.8,1442.1C1419.9,1434.1 1421.8,1431.4 1421.4,1429.3C1418.3,1429.5 1409.8,1429.8 1402.8,1430.4C1395.8,1431.1 1387.3,1431.5 1379.5,1433.2C1371.7,1435 1362.8,1436.5 1356.2,1440.9C1349.6,1445.3 1345.3,1452 1339.9,1459.6C1334.5,1467.1 1326.9,1479.3 1323.6,1486.3C1320.3,1493.3 1319.4,1496.4 1320.1,1501.5C1320.8,1506.5 1327,1512.5 1327.8,1516.6C1328.6,1520.8 1330.9,1524.7 1324.8,1526.4C1318.6,1528.1 1296.6,1527 1291,1527.1C1289.8,1525.4 1285.2,1521.1 1284,1516.6C1282.8,1512.2 1283.2,1506.9 1284,1500.3C1284.8,1493.7 1286.3,1486.3 1288.7,1477C1291,1467.7 1295.3,1454.1 1298,1444.4C1300.7,1434.7 1301.9,1425.8 1305,1418.8C1308.1,1411.8 1311.2,1407.7 1316.6,1402.5C1322.1,1397.2 1331.4,1392.8 1337.6,1387.3C1343.8,1381.9 1350,1375.9 1353.9,1369.9C1357.8,1363.9 1358.5,1359 1360.9,1351.2C1363.2,1343.5 1365.5,1331.8 1367.9,1323.3C1370.2,1314.8 1374.3,1302.3 1374.8,1300C1375.4,1297.7 1370.8,1312.3 1371.4,1309.6C1371.9,1307 1377.2,1288.3 1378.3,1284C1374.7,1283.4 1363.8,1281.8 1356.2,1280.5C1348.6,1279.3 1340.7,1279 1332.9,1276.6C1325.2,1274.1 1316.6,1270.2 1309.6,1265.8C1302.6,1261.5 1297.2,1256.9 1291,1250.2C1284.8,1243.6 1278.6,1234.1 1272.4,1225.8C1266.2,1217.4 1260.3,1207.3 1253.7,1200.2C1247.1,1193 1240.5,1187.3 1232.8,1182.7C1225,1178.1 1214.5,1174.6 1207.1,1172.7C1199.8,1170.7 1194.3,1170.3 1188.5,1171C1182.7,1171.7 1175.9,1174 1172.2,1176.9C1168.5,1179.7 1166.6,1184.6 1166.4,1188C1166.2,1191.5 1170.3,1196.2 1171,1197.8C1170.5,1199.3 1169.1,1204.9 1167.5,1206.7C1166,1208.4 1162.7,1208 1161.7,1208.3Z" fill="none" stroke="#000" stroke-width="4.6" stroke-linejoin="round"/>
<path d="M1486.6,1341.9C1485.1,1345.4 1481.2,1355.9 1477.3,1362.9C1473.5,1369.9 1468.8,1376.7 1463.4,1383.9C1457.9,1391 1451.5,1398.8 1444.7,1406C1437.9,1413.2 1426.3,1423.4 1422.6,1426.9" fill="none" stroke="#000" stroke-width="4.5" stroke-linecap="round"/>
<path d="M1663,1358.2C1666.9,1360.4 1679.3,1366.4 1686.3,1371C1693.3,1375.7 1700.1,1380.9 1705,1386.2C1709.8,1391.4 1713.7,1399.8 1715.5,1402.5" fill="none" stroke="#000" stroke-width="4" stroke-linecap="round"/>
<path d="M1466.9,1379.2C1470.2,1379.6 1480,1380.7 1486.6,1381.5C1493.2,1382.4 1503.1,1383.9 1506.4,1384.3" fill="none" stroke="#000" stroke-width="4.2" stroke-linecap="round"/>
<path d="M1668.9,1405.3C1673.7,1402.2 1693.1,1389.8 1698,1386.6" fill="none" stroke="#000" stroke-width="3.2" stroke-linecap="round"/>
<path d="M1620,1397.8C1624,1398.5 1636.3,1400.5 1644.4,1402C1652.6,1403.5 1664.8,1405.9 1668.9,1406.7" fill="none" stroke="#000" stroke-width="4.2" stroke-linecap="round"/>
<path d="M1758.5,1246.7C1760.7,1249.7 1765.1,1259.4 1771.4,1264.2C1777.6,1269.1 1787.5,1273.3 1795.8,1275.9C1804.2,1278.5 1817.2,1279.2 1821.4,1279.8" fill="none" stroke="#000" stroke-width="4" stroke-linecap="round"/>
<path d="M1735.3,1271.2C1738.7,1274.1 1749.6,1282.3 1756.2,1288.7C1762.8,1295.1 1770.5,1303.8 1774.8,1309.6C1779.2,1315.5 1781.1,1321.3 1782.3,1323.6" fill="none" stroke="#000" stroke-width="4" stroke-linecap="round"/>
<path d="M1835.4,1246.7C1836.3,1249.1 1838,1257.5 1840.5,1260.7C1843.1,1263.9 1848.9,1265 1850.5,1265.8" fill="none" stroke="#000" stroke-width="4" stroke-linecap="round"/>
<path d="M1843.6,1487.5C1843.3,1489.4 1842.2,1497.2 1841.9,1499.1" fill="none" stroke="#000" stroke-width="3" stroke-linecap="round"/>
<path d="M1855.2,1486.3C1854.9,1488.7 1853.8,1498 1853.6,1500.3" fill="none" stroke="#000" stroke-width="3" stroke-linecap="round"/>
<path d="M1680.5,1515.5C1681.1,1517.3 1683.4,1524.6 1684,1526.4" fill="none" stroke="#000" stroke-width="3" stroke-linecap="round"/>
<path d="M1692.2,1514.3C1692.7,1516.2 1694.7,1524 1695.2,1525.9" fill="none" stroke="#000" stroke-width="3" stroke-linecap="round"/>
<path d="M1302.6,1510.8C1303.2,1513.3 1305.6,1523.4 1306.1,1525.9" fill="none" stroke="#000" stroke-width="3" stroke-linecap="round"/>
<path d="M1315.5,1508.5C1315.8,1511.2 1317.4,1522.1 1317.8,1524.8" fill="none" stroke="#000" stroke-width="3" stroke-linecap="round"/>
<path d="M1831.2,1180.1 L1846.5,1148.4 L1848.4,1157.3 L1838.4,1175.9Z" fill="#d9a3a8"/>
<path d="M1830,1181C1831.4,1178.2 1835.3,1169.3 1838,1163.8C1840.6,1158.3 1844.8,1150.6 1846.2,1148" fill="none" stroke="#000" stroke-width="2.2" stroke-linecap="round"/>
<path d="M1854.7,1161.9C1854,1164.3 1851.8,1172.2 1850.1,1175.9C1848.4,1179.6 1843.9,1182.1 1844.5,1184.3C1845.1,1186.5 1850.9,1187.4 1853.8,1189C1856.8,1190.5 1860.2,1191.6 1862.2,1193.6C1864.2,1195.6 1865.3,1199.8 1865.9,1201.1" fill="none" stroke="#000" stroke-width="4.2" stroke-linecap="round"/>
<path d="M1825.4,1214.1C1825.3,1209.9 1827,1204.3 1828.6,1202C1830.3,1199.7 1832.7,1199.9 1835.2,1200.3C1837.6,1200.7 1841.2,1201.7 1843.6,1204.3C1845.9,1207 1848.6,1212.2 1849.1,1216C1849.7,1219.8 1848.7,1224.7 1846.8,1227.2C1844.9,1229.7 1840.9,1230.9 1838,1230.9C1835,1230.9 1831.2,1230 1829.1,1227.2C1827,1224.4 1825.5,1218.3 1825.4,1214.1Z" fill="#e6e31c" stroke="#111" stroke-width="2.6"/>
<path d="M1824.9,1213.2C1825.8,1212.1 1828.4,1207.4 1830,1206.7C1831.7,1205.9 1833.9,1208.2 1834.7,1208.5C1834.2,1209.5 1832.7,1212.1 1831.9,1214.1C1831.1,1216.1 1830.3,1219.6 1830,1220.7C1829.4,1220.8 1827.2,1222.8 1826.3,1221.6C1825.5,1220.3 1825.1,1214.6 1824.9,1213.2Z" fill="#111"/>
</g>
<g fill="#00b5ef"><rect x="1106.3" y="1797.1" width="46.5" height="126.9"/><rect x="1211.3" y="1897.4" width="49" height="26.6"/><rect x="1318.2" y="1790.3" width="46.3" height="133.7"/><rect x="1433" y="1581.8" width="45.7" height="342.2"/><rect x="1554.1" y="1684.6" width="45.9" height="239.4"/><rect x="1669.6" y="1822.4" width="47.5" height="101.6"/><rect x="1778.4" y="1902.8" width="51.4" height="21.2"/><rect x="1880.3" y="1706.5" width="52.2" height="217.5"/></g>
<path d="M1057.4,1530 L1960.6,1530 L1960.6,1921 L1050.9,1921 L1050.9,1875" fill="none" stroke="#000" stroke-width="6.4" stroke-linecap="round" stroke-linejoin="round"/>
<path d="M1051.6,1664.5 L1051.6,1563 M1032,1594 L1052,1562 L1070,1595.4" fill="none" stroke="#000" stroke-width="6.2" stroke-linecap="round" stroke-linejoin="miter"/>
<text transform="translate(1068.8,1843.4) rotate(-90)" x="0" y="0" font-family="Liberation Sans, sans-serif" font-weight="bold" font-size="45.5" textLength="150.8" lengthAdjust="spacingAndGlyphs">ERROR</text>
</svg>
</body></html>
